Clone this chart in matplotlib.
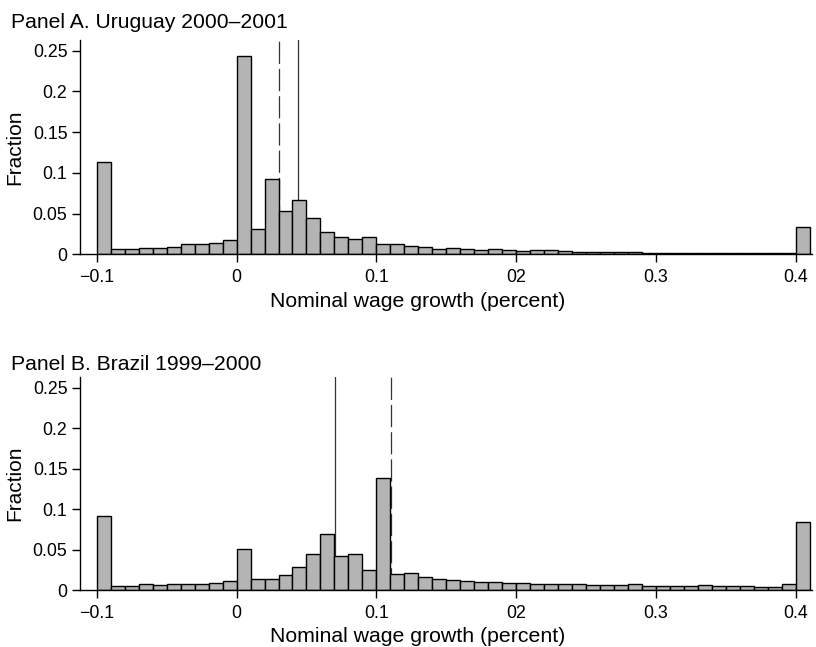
import numpy as np
import matplotlib
matplotlib.use('Agg')
import matplotlib.pyplot as plt

plt.rcParams['font.family'] = ['Liberation Sans', 'DejaVu Sans']
plt.rcParams['lines.scale_dashes'] = False

# bin left edges, width 0.01, from -0.10 to 0.40
bin_left = np.round(np.arange(-0.10, 0.405, 0.01), 2)
bin_width = 0.01

# Panel A. Uruguay 2000-2001
uruguay = [0.113, 0.007, 0.007, 0.008, 0.008, 0.009, 0.013, 0.012, 0.014, 0.018,
           0.244, 0.031, 0.092, 0.053, 0.067, 0.044, 0.027, 0.021, 0.019, 0.021,
           0.013, 0.012, 0.010, 0.009, 0.007, 0.008, 0.006, 0.005, 0.006, 0.005,
           0.004, 0.005, 0.005, 0.004, 0.003, 0.003, 0.003, 0.003, 0.003, 0.002,
           0.002, 0.002, 0.002, 0.002, 0.001, 0.001, 0.002, 0.002, 0.001, 0.001,
           0.033]
uruguay_lines = {'dashed': 0.0305, 'solid': 0.0436}

# Panel B. Brazil 1999-2000
brazil = [0.091, 0.005, 0.005, 0.007, 0.006, 0.007, 0.008, 0.008, 0.009, 0.011,
          0.051, 0.014, 0.014, 0.018, 0.029, 0.044, 0.069, 0.042, 0.045, 0.025,
          0.139, 0.020, 0.021, 0.016, 0.014, 0.013, 0.011, 0.010, 0.010, 0.009,
          0.009, 0.008, 0.008, 0.007, 0.007, 0.006, 0.006, 0.006, 0.008, 0.005,
          0.005, 0.0045, 0.005, 0.006, 0.0045, 0.0045, 0.0045, 0.004, 0.004, 0.007,
          0.084]
brazil_lines = {'solid': 0.0705, 'dashed': 0.1102}

xticks = [-0.1, 0, 0.1, 0.2, 0.3, 0.4]
xtick_labels = ['\u22120.1', '0', '0.1', '02', '0.3', '0.4']
yticks = [0, 0.05, 0.1, 0.15, 0.2, 0.25]
ytick_labels = ['0', '0.05', '0.1', '0.15', '0.2', '0.25']

fig = plt.figure(figsize=(8.16, 6.47), dpi=100)
ax_a = fig.add_axes([0.098, 0.607, 0.897, 0.331])
ax_b = fig.add_axes([0.098, 0.088, 0.897, 0.329])


def draw_panel(ax, values, vlines):
    for style, x in vlines.items():
        ls = (0, (16, 3.6)) if style == 'dashed' else '-'
        ax.axvline(x, color='#333333', lw=0.9, linestyle=ls, zorder=1)
    ax.bar(bin_left, values, width=bin_width, align='edge',
           color='#b4b4b4', edgecolor='black', linewidth=1.0, zorder=2)
    ax.set_xlim(-0.112, 0.4115)
    ax.set_ylim(0, 0.263)
    ax.set_xticks(xticks)
    ax.set_xticklabels(xtick_labels)
    ax.set_yticks(yticks)
    ax.set_yticklabels(ytick_labels)
    ax.tick_params(direction='out', length=5.5, width=1, labelsize=12.8)
    ax.tick_params(axis='x', pad=5)
    ax.tick_params(axis='y', pad=3.5)
    for s in ['top', 'right']:
        ax.spines[s].set_visible(False)
    for s in ['left', 'bottom']:
        ax.spines[s].set_linewidth(1.0)
    ax.set_xlabel('Nominal wage growth (percent)', fontsize=15.3)
    ax.xaxis.set_label_coords(0.462, -0.175)
    ax.set_ylabel('Fraction', fontsize=15)
    ax.yaxis.set_label_coords(-0.076, 0.5)


draw_panel(ax_a, uruguay, uruguay_lines)
draw_panel(ax_b, brazil, brazil_lines)

fig.text(11 / 816, 1 - 28 / 647, 'Panel A. Uruguay 2000\u20132001',
         fontsize=15.2, ha='left', va='baseline')
fig.text(11 / 816, 1 - 370 / 647, 'Panel B. Brazil 1999\u20132000',
         fontsize=15.2, ha='left', va='baseline')

fig.savefig('out.png', dpi=100)
